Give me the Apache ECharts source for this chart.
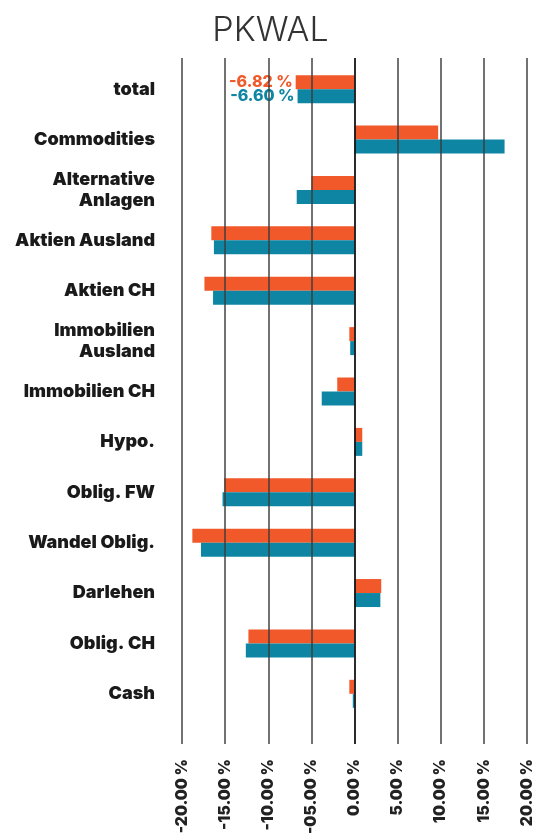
<!DOCTYPE html>
<html>
<head>
<meta charset="utf-8">
<script src="https://cdn.jsdelivr.net/npm/echarts@6/dist/echarts.min.js"></script>
<style>
  html, body { margin: 0; padding: 0; background: #fff; }
  #chart { width: 541px; height: 837px; }
</style>
</head>
<body>
<div id="chart"></div>
<script>
// Kategorien (von oben nach unten)
const categories = [
  'total', 'Commodities', 'Alternative\nAnlagen', 'Aktien Ausland', 'Aktien CH',
  'Immobilien\nAusland', 'Immobilien CH', 'Hypo.', 'Oblig. FW', 'Wandel Oblig.',
  'Darlehen', 'Oblig. CH', 'Cash'
];
// orange Serie
const orangeValues = [-6.82, 9.7, -5.0, -16.6, -17.4, -0.6, -2.0, 0.9, -15.1, -18.8, 3.1, -12.3, -0.6];
// blaue Serie
const tealValues = [-6.60, 17.4, -6.7, -16.3, -16.4, -0.5, -3.8, 0.9, -15.3, -17.8, 3.0, -12.6, -0.2];
const xTicks = [-20, -15, -10, -5, 0, 5, 10, 15, 20];

const ORANGE = '#f2592a';
const TEAL = '#0e86a3';
const LABEL_FONT = 'Inter';

const formatTick = (v) => {
  if (v === -5) return '-05.00 %';
  return `${v.toFixed(2)} %`;
};

// nur "total" bekommt ein Label
const withTotalLabel = (values, color) => values.map((v, i) => {
  if (i !== 0) return v;
  return {
    value: v,
    label: {
      show: true,
      position: 'left',
      distance: 3,
      color,
      fontFamily: LABEL_FONT,
      fontWeight: 800,
      fontSize: 16,
      formatter: `${v.toFixed(2)} %`,
    },
  };
});

const chart = echarts.init(document.getElementById('chart'));

// Gitterlinien liegen ueber den Balken -> markLine einer leeren Serie (eigene zlevel)
const gridLines = xTicks.map(t => ({
  xAxis: t,
  lineStyle: {
    color: t === 0 ? 'rgba(20,20,20,0.9)' : 'rgba(60,60,60,0.72)',
  },
}));

const option = {
  animation: false,
  title: {
    text: 'PKWAL',
    left: 'center',
    top: 9,
    textStyle: {
      fontFamily: 'Inter',
      fontWeight: 300,
      fontSize: 34,
      color: '#333',
    },
  },
  grid: [
    { left: 182, right: 14, top: 64, bottom: 118 },
    // zweites Grid nur fuer die Gitterlinien / Achsenbeschriftung
    { left: 182, right: 14, top: 58, bottom: 92 },
  ],
  xAxis: [
    {
      gridIndex: 0,
      type: 'value',
      min: -20,
      max: 20,
      interval: 5,
      show: false,
    },
    {
      gridIndex: 1,
      type: 'value',
      min: -20,
      max: 20,
      interval: 5,
      axisLine: { show: false },
      axisTick: { show: false },
      splitLine: { show: false },
      axisLabel: {
        rotate: 90,
        margin: 15,
        color: '#222',
        fontFamily: LABEL_FONT,
        fontWeight: 900,
        fontSize: 15.5,
        formatter: formatTick,
      },
    },
  ],
  yAxis: [
    {
      gridIndex: 0,
      type: 'category',
      inverse: true,
      data: categories,
      axisLine: { show: false },
      axisTick: { show: false },
      splitLine: { show: false },
      axisLabel: {
        margin: 27,
        color: '#1a1a1a',
        fontFamily: LABEL_FONT,
        fontWeight: 900,
        fontSize: 18,
        lineHeight: 21,
        align: 'right',
      },
    },
    {
      gridIndex: 1,
      type: 'value',
      min: 0,
      max: 1,
      show: false,
    },
  ],
  series: [
    {
      type: 'bar',
      xAxisIndex: 0,
      yAxisIndex: 0,
      barWidth: 14,
      barGap: '0%',
      itemStyle: { color: ORANGE },
      data: withTotalLabel(orangeValues, ORANGE),
    },
    {
      type: 'bar',
      xAxisIndex: 0,
      yAxisIndex: 0,
      barWidth: 14,
      barGap: '0%',
      itemStyle: { color: TEAL },
      data: withTotalLabel(tealValues, TEAL),
    },
    {
      type: 'line',
      xAxisIndex: 1,
      yAxisIndex: 1,
      zlevel: 1,
      data: [],
      markLine: {
        silent: true,
        symbol: ['none', 'none'],
        label: { show: false },
        lineStyle: { type: 'solid', width: 2 },
        data: gridLines,
      },
    },
  ],
};

chart.setOption(option);
</script>
</body>
</html>
